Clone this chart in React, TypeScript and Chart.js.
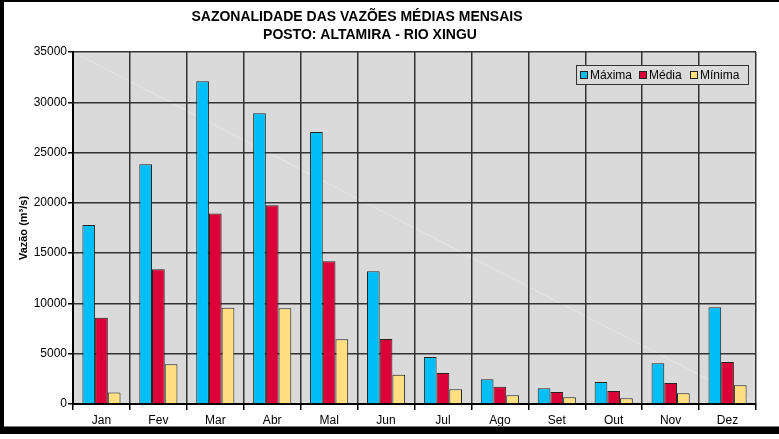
import React, { useEffect, useRef } from "react";
import { Chart, registerables } from "chart.js";

Chart.register(...registerables);

const months = ["Jan", "Fev", "Mar", "Abr", "Mal", "Jun", "Jul", "Ago", "Set", "Out", "Nov", "Dez"];
const maxima = [17800, 23850, 32100, 28900, 27050, 13200, 4670, 2450, 1560, 2190, 4050, 9610];
const media = [8580, 13400, 18950, 19750, 14200, 6460, 3080, 1720, 1190, 1290, 2090, 4180];
const minima = [1150, 3950, 9580, 9520, 6430, 2910, 1460, 860, 660, 570, 1060, 1860];
const seriesNames = ["Máxima", "Média", "Mínima"];
const seriesColors = ["#00BFF8", "#DC0039", "#FFDF80"];
const titleLines = ["SAZONALIDADE DAS VAZÕES MÉDIAS MENSAIS", "POSTO: ALTAMIRA - RIO XINGU"];
const yTitle = "Vazão (m³/s)";

const FONT = "'Liberation Sans', Arial, sans-serif";

const decorPlugin = {
  id: "decor",
  beforeDraw(chart: any) {
    const ctx = chart.ctx;
    const { width, height } = chart;
    const a = chart.chartArea;
    ctx.save();
    ctx.fillStyle = "#ffffff";
    ctx.fillRect(0, 0, width, height);
    ctx.fillStyle = "#DADADA";
    ctx.fillRect(a.left, a.top, a.right - a.left, a.bottom - a.top);
    // faint diagonal
    ctx.strokeStyle = "rgba(255,255,255,0.3)";
    ctx.lineWidth = 1;
    ctx.beginPath();
    ctx.moveTo(a.left, a.top);
    ctx.lineTo(a.right, a.bottom);
    ctx.stroke();
    ctx.restore();
  },
  afterDraw(chart: any) {
    const ctx = chart.ctx;
    const { width } = chart;
    const a = chart.chartArea;
    ctx.save();
    // frame
    ctx.fillStyle = "#000";
    ctx.fillRect(0, 0, width, 2);
    ctx.fillRect(0, 0, 4, 434);
    ctx.fillRect(0, 427, width, 7);
    ctx.fillStyle = "#7a7a7a";
    ctx.fillRect(4, 426, width, 1);
    // titles
    ctx.fillStyle = "#000";
    ctx.textAlign = "center";
    ctx.textBaseline = "middle";
    ctx.font = `bold 14px ${FONT}`;
    ctx.fillText(titleLines[0], 357, 17, 350);
    ctx.fillText(titleLines[1], 370, 35, 230);
    // y title
    ctx.save();
    ctx.translate(24, (a.top + a.bottom) / 2);
    ctx.rotate(-Math.PI / 2);
    ctx.font = `bold 11px ${FONT}`;
    ctx.fillText(yTitle, 0, 0);
    ctx.restore();
    // legend
    const lx = 576, ly = 65, lw = 172, lh = 19;
    ctx.fillStyle = "#DADADA";
    ctx.fillRect(lx, ly, lw, lh);
    ctx.strokeStyle = "#333";
    ctx.lineWidth = 1;
    ctx.strokeRect(lx + 0.5, ly + 0.5, lw, lh);
    const sx = [580, 639, 690];
    ctx.font = `12px ${FONT}`;
    ctx.textAlign = "left";
    ctx.textBaseline = "middle";
    for (let i = 0; i < 3; i++) {
      ctx.fillStyle = seriesColors[i];
      ctx.fillRect(sx[i], 71, 7, 7);
      ctx.strokeStyle = "#222";
      ctx.strokeRect(sx[i] + 0.5, 71.5, 7, 7);
      ctx.fillStyle = "#000";
      ctx.fillText(seriesNames[i], sx[i] + 10, 75.5);
    }
    ctx.restore();
  },
};

export default function App() {
  const ref = useRef<HTMLCanvasElement>(null);
  useEffect(() => {
    document.body.style.margin = "0";
    const chart = new Chart(ref.current as HTMLCanvasElement, {
      type: "bar",
      data: {
        labels: months,
        datasets: [maxima, media, minima].map((d, i) => ({
          label: seriesNames[i],
          data: d,
          backgroundColor: seriesColors[i],
          borderColor: "#222",
          borderWidth: 1,
          categoryPercentage: 0.67,
          barPercentage: 1.0,
        })),
      },
      options: {
        responsive: false,
        animation: false,
        devicePixelRatio: 1,
        layout: { padding: { top: 52, left: 0, right: 23, bottom: 0 } },
        plugins: {
          legend: { display: false },
          title: { display: false },
          tooltip: { enabled: false },
        },
        scales: {
          x: {
            offset: true,
            grid: {
              offset: true,
              color: "#333",
              lineWidth: 1.5,
              tickLength: 6,
              tickColor: "#000",
            },
            border: { color: "#000", width: 2 },
            ticks: { color: "#000", font: { family: FONT, size: 12 }, padding: 3 },
            afterFit(scale: any) {
              scale.height = 35;
            },
          },
          y: {
            min: 0,
            max: 35000,
            ticks: {
              stepSize: 5000,
              color: "#000",
              font: { family: FONT, size: 12 },
              padding: 1,
              callback: (v: any) => String(v),
            },
            grid: { color: "#333", lineWidth: 1.5, tickLength: 5, tickColor: "#000" },
            border: { color: "#000", width: 2 },
            afterFit(scale: any) {
              scale.width = 73;
            },
          },
        },
      },
      plugins: [decorPlugin],
    });
    return () => chart.destroy();
  }, []);
  return (
    <div style={{ position: "fixed", left: 0, top: 0, width: 779, height: 439, background: "#fff" }}>
      <canvas ref={ref} width={779} height={439} style={{ display: "block" }} />
    </div>
  );
}
